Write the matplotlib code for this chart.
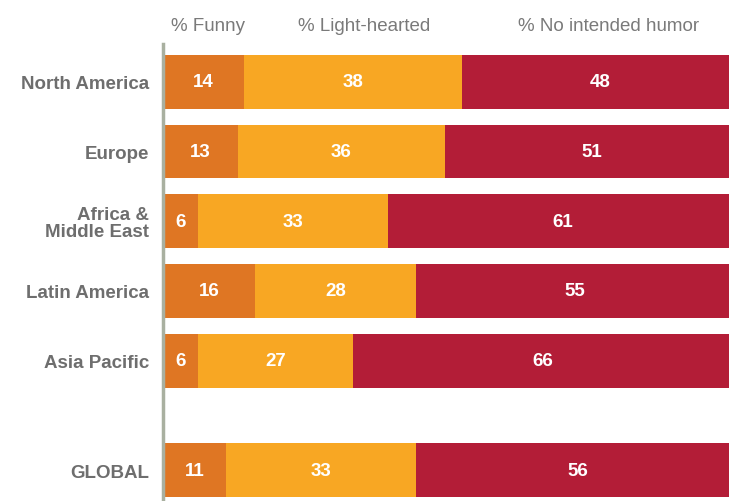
import matplotlib
matplotlib.use("Agg")
import matplotlib.pyplot as plt
import numpy as np

plt.rcParams['font.family'] = ['Liberation Sans', 'DejaVu Sans']

regions = ["North America", "Europe", "Africa &\nMiddle East", "Latin America", "Asia Pacific", "GLOBAL"]
funny = [14, 13, 6, 16, 6, 11]
light = [38, 36, 33, 28, 27, 33]
no_humor = [48, 51, 61, 55, 66, 56]
series_names = ["% Funny", "% Light-hearted", "% No intended humor"]

colors = ["#DF7623", "#F8A723", "#B31D37"]
ypos = [0, 1, 2, 3, 4, 5.57]

fig = plt.figure(figsize=(7.29, 5.02), dpi=100)
ax = fig.add_axes([0.2236, 0.0, 0.7764, 0.9104])

series = [funny, light, no_humor]
left = np.zeros(len(regions))
for vals, col in zip(series, colors):
    vals = np.array(vals, dtype=float)
    ax.barh(ypos, vals, left=left, height=0.77, color=col, edgecolor='none')
    for y, l, v in zip(ypos, left, vals):
        ax.text(l + v / 2, y, f"{int(v)}", ha='center', va='center',
                color='white', fontsize=13.5, fontweight='bold')
    left += vals

ax.set_xlim(0, 98.3)
ax.set_ylim(6.01, -0.54)
ax.set_yticks(ypos)
ax.set_yticklabels(regions, fontsize=13.5, fontweight='bold', color='#6E6E6E',
                   linespacing=1.0, multialignment='right')
ax.tick_params(axis='y', length=0, pad=10)
ax.set_xticks([])
for s in ['top', 'right', 'bottom']:
    ax.spines[s].set_visible(False)
ax.spines['left'].set_color('#A9B0A0')
ax.spines['left'].set_linewidth(2.5)

header_x = [7.9, 34.9, 77.3]
for hx, name in zip(header_x, series_names):
    ax.text(hx, -0.8, name, ha='center', va='center', fontsize=13.5,
            color='#7A7A7A', clip_on=False)

fig.savefig("out.png", dpi=100, facecolor='white')
